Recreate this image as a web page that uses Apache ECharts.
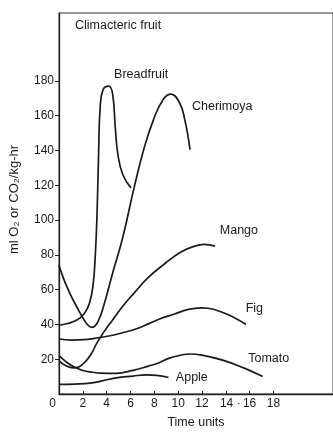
<!DOCTYPE html>
<html>
<head>
<meta charset="utf-8">
<script src="https://cdn.jsdelivr.net/npm/echarts@6/dist/echarts.min.js"></script>
<style>html,body{margin:0;padding:0;background:#fff}#c{width:333px;height:434px}</style>
</head>
<body>
<div id="c"></div>
<script>
// Time units
const xTicks = [0, 2, 4, 6, 8, 10, 12, 14, 16, 18];
const yTicks = [20, 40, 60, 80, 100, 120, 140, 160, 180];

// [time, ml O2 or CO2/kg-hr]
const breadfruit = [[0,39.5],[0.7,40.5],[1.5,42.5],[2.1,46],[2.55,52],[2.85,62],[3.05,80],[3.2,105],[3.33,140],[3.45,164],[3.7,175],[4.18,177],[4.5,172.5],[4.73,152.6],[4.95,137.4],[5.36,126],[6.04,118.5]];
const cherimoya = [[0,74],[0.4,66],[0.9,58],[1.5,50],[2.07,43],[2.45,39.5],[2.8,38.3],[3.3,42],[3.85,53],[4.4,67],[5.35,90],[6.3,118.5],[7.13,141],[7.95,158],[8.77,169.6],[9.4,172.4],[10.1,167.7],[10.55,158],[11.0,140.5]];
const mango = [[0,19],[0.5,16.5],[1.2,15],[1.7,15.7],[2.2,18.5],[2.7,23],[3.2,29.5],[3.8,36],[4.5,42.5],[5.3,50],[6.3,58],[7.5,67],[8.9,75],[10.2,81.5],[11.3,84.8],[12.2,86],[13.1,85]];
const fig = [[0,31.6],[1,31],[2.1,31.2],[3,32],[4.3,33.5],[5.5,35.5],[6.5,37.5],[7.5,40.3],[8.6,43.5],[9.7,46],[10.8,48.5],[11.9,49.5],[12.5,49.3],[13.8,46.7],[14.8,43.5],[15.7,40]];
const tomato = [[0,22],[0.6,18.5],[1.2,15.8],[2,13.5],[2.8,12.5],[3.5,12],[4.8,11.9],[6.2,13.6],[7.5,16],[8.4,18],[9.2,20.5],[10,22],[11,23],[12,22.3],[13.8,19.3],[15.5,15],[17.1,10]];
const apple = [[0,5.5],[1.3,5.7],[2.6,6.2],[3.6,7.5],[4.8,9.3],[6.2,10.3],[7.3,11],[8.2,10.7],[9.2,9.5]];

const seriesNames = ['Breadfruit', 'Cherimoya', 'Mango', 'Fig', 'Tomato', 'Apple'];
const seriesData = [breadfruit, cherimoya, mango, fig, tomato, apple];
// label anchor points in data units
const labelAnchors = [[6.9,183.8],[13.7,165.1],[15.1,94.2],[16.4,49.3],[17.6,20.4],[11.15,9.6]];

const FONT = 'Liberation Sans, Arial, Helvetica, sans-serif';
const INK = '#1a1a1a';

const chart = echarts.init(document.getElementById('c'), null, {renderer: 'canvas'});
chart.setOption({
  backgroundColor: '#fff',
  animation: false,
  title: {
    text: 'Climacteric fruit',
    left: 70, top: 14,
    textStyle: {fontFamily: FONT, fontSize: 12.5, fontWeight: 'normal', color: INK}
  },
  grid: {left: 58, top: 13, width: 280.6, height: 386, show: true, borderColor: '#333', borderWidth: 1, backgroundColor: 'transparent'},
  xAxis: {
    type: 'value', min: 0, max: 23, interval: 2,
    name: 'Time units', nameLocation: 'middle', nameGap: 22,
    nameTextStyle: {fontFamily: FONT, fontSize: 12.5, color: INK},
    axisLine: {lineStyle: {color: '#222', width: 1.3}},
    axisTick: {inside: true, length: 3, customValues: xTicks.slice(1), lineStyle: {color: '#222'}},
    axisLabel: {
      customValues: xTicks, fontFamily: FONT, fontSize: 12, color: INK, margin: 4,
      formatter: function (v) {
        if (v === 0) return '{z|0}';
        if (v === 14) return '{p|14 ·}';
        return String(v);
      },
      rich: {
        z: {fontFamily: FONT, fontSize: 12, color: INK, padding: [0, 13, 0, 0]},
        p: {fontFamily: FONT, fontSize: 12, color: INK, padding: [0, 0, 0, 9]}
      }
    },
    splitLine: {show: false}
  },
  yAxis: {
    type: 'value', min: 0, max: 219, interval: 20,
    name: 'ml O\u2082 or CO\u2082/kg-hr', nameLocation: 'middle', nameGap: 38, nameRotate: 90,
    nameTextStyle: {fontFamily: FONT, fontSize: 13, color: INK, padding: [0, 0, 0, 8]},
    axisLine: {show: true, lineStyle: {color: '#222', width: 1.3}},
    axisTick: {show: true, length: 4, customValues: yTicks, lineStyle: {color: '#222'}},
    axisLabel: {customValues: yTicks, fontFamily: FONT, fontSize: 12, color: INK, margin: 5},
    splitLine: {show: false}
  },
  series: seriesNames.map(function (name, i) {
    return {
      name: name, type: 'line', data: seriesData[i], smooth: 0.45, showSymbol: false,
      lineStyle: {color: INK, width: 1.7},
      markPoint: {
        symbol: 'circle', symbolSize: 0,
        label: {show: true, position: 'inside', formatter: name, fontFamily: FONT, fontSize: 12.5, color: INK},
        data: [{coord: labelAnchors[i]}]
      }
    };
  })
});
</script>
</body>
</html>
